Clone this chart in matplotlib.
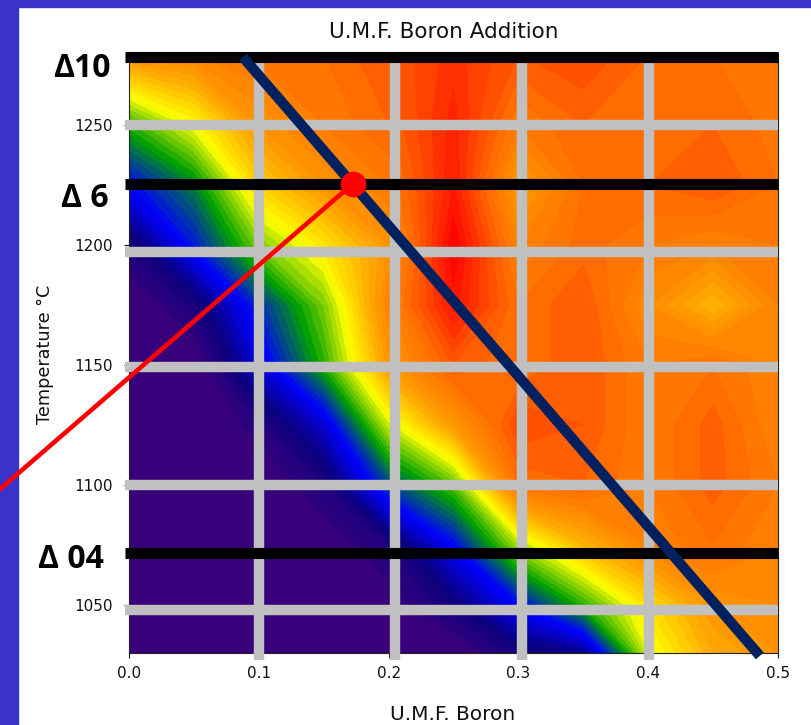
import numpy as np
import matplotlib
matplotlib.use("Agg")
import matplotlib.pyplot as plt
from matplotlib.colors import LinearSegmentedColormap
from matplotlib.patches import Rectangle

# measured grid: U.M.F. boron fraction vs temperature
boron = [0.0, 0.05, 0.1, 0.15, 0.2, 0.25, 0.3, 0.35, 0.4, 0.45, 0.5]
temps = [1030, 1050, 1075, 1100, 1125, 1150, 1175, 1200, 1225, 1250, 1280]

# relative response (0 = low, 1 = high), one row per temperature
z_1030 = [0.02, 0.02, 0.02, 0.02, 0.02, 0.03, 0.14, 0.18, 0.58, 0.72, 0.76]
z_1050 = [0.02, 0.02, 0.02, 0.02, 0.05, 0.15, 0.30, 0.47, 0.64, 0.76, 0.78]
z_1075 = [0.02, 0.02, 0.02, 0.04, 0.12, 0.30, 0.55, 0.70, 0.80, 0.84, 0.80]
z_1100 = [0.02, 0.02, 0.03, 0.12, 0.36, 0.50, 0.84, 0.86, 0.82, 0.87, 0.82]
z_1125 = [0.02, 0.02, 0.10, 0.25, 0.57, 0.75, 0.90, 0.88, 0.82, 0.87, 0.80]
z_1150 = [0.02, 0.03, 0.26, 0.47, 0.75, 0.88, 0.84, 0.88, 0.82, 0.84, 0.80]
z_1175 = [0.03, 0.13, 0.34, 0.52, 0.80, 0.97, 0.84, 0.88, 0.78, 0.70, 0.80]
z_1200 = [0.13, 0.32, 0.52, 0.63, 0.76, 1.00, 0.80, 0.85, 0.82, 0.80, 0.82]
z_1225 = [0.30, 0.42, 0.66, 0.76, 0.82, 0.96, 0.74, 0.84, 0.86, 0.88, 0.84]
z_1250 = [0.47, 0.60, 0.76, 0.82, 0.86, 0.95, 0.82, 0.86, 0.84, 0.86, 0.83]
z_1280 = [0.78, 0.80, 0.83, 0.84, 0.88, 0.93, 0.88, 0.90, 0.86, 0.84, 0.83]

# overlay annotations
grid_x = [0.1, 0.205, 0.303, 0.401]
grid_y = [1250, 1197, 1149, 1100, 1048]
delta_temps = [1278.5, 1225.6, 1071.5]
delta_labels = ["Δ10", "Δ 6", "Δ 04"]
trend_x = [0.0878, 0.486]
trend_y = [1278.3, 1028.8]
point_x = 0.1726
point_y = 1225.6
pointer_x = [-0.1, point_x]
pointer_y = [1098, point_y]

W, H = 811, 725


def fx(x):
    return x / W


def fy(y):
    return 1 - y / H


fig = plt.figure(figsize=(W / 100, H / 100), dpi=100)

# slide border (left and top)
border = "#3a33c9"
fig.patches.append(Rectangle((0, 0), fx(17.5), 1, transform=fig.transFigure,
                             color=border, zorder=-1))
fig.patches.append(Rectangle((0, fy(7)), 1, 7 / H, transform=fig.transFigure,
                             color=border, zorder=-1))

ax = fig.add_axes([fx(129), fy(653), 649 / W, 600 / H])

cmap = LinearSegmentedColormap.from_list("umf", [
    (0.00, "#38007a"), (0.06, "#38007a"), (0.17, "#0a0080"),
    (0.30, "#0000ff"), (0.45, "#00a000"), (0.60, "#ffff00"),
    (0.72, "#ffa800"), (0.85, "#ff6e00"), (1.00, "#ff0000")])

z = np.array([z_1030, z_1050, z_1075, z_1100, z_1125, z_1150,
              z_1175, z_1200, z_1225, z_1250, z_1280])
ax.contourf(boron, temps, z, levels=np.linspace(0, 1, 51), cmap=cmap,
            vmin=0, vmax=1, zorder=1)

ax.set_xlim(0, 0.5)
ax.set_ylim(1030, 1280)
ax.set_xticks([0.0, 0.1, 0.2, 0.3, 0.4, 0.5])
ax.set_xticklabels(["0.0", "0.1", "0.2", "0.3", "0.4", "0.5"])
ax.set_yticks([1050, 1100, 1150, 1200, 1250])
ax.tick_params(axis="both", direction="out", length=3.6, width=0.8,
               labelsize=11, colors="#111111")
ax.tick_params(axis="y", pad=8)
ax.tick_params(axis="x", pad=6)
for sp in ax.spines.values():
    sp.set_linewidth(0.8)
    sp.set_color("#222222")

# thick gray grid
for gx in grid_x:
    ax.plot([gx, gx], [1027, 1278], color="#c0c0c0", lw=7.5,
            solid_capstyle="butt", clip_on=False, zorder=3)
for gy in grid_y:
    ax.plot([-0.003, 0.5], [gy, gy], color="#c0c0c0", lw=7.5,
            solid_capstyle="butt", clip_on=False, zorder=3)

# delta reference lines
for ty in delta_temps:
    ax.plot([-0.003, 0.5], [ty, ty], color="black", lw=8,
            solid_capstyle="butt", clip_on=False, zorder=4)

ax.plot(trend_x, trend_y, color="#002060", lw=7.5,
        solid_capstyle="butt", clip_on=False, zorder=5)
ax.plot(pointer_x, pointer_y, color="#ff0000", lw=3.3,
        clip_on=False, zorder=6)
ax.plot(point_x, point_y, "o", ms=18.5, color="#ff0000", mec="none",
        clip_on=False, zorder=7)

# labels
fig.text(fx(444), fy(38), "U.M.F. Boron Addition", ha="center",
         va="baseline", fontsize=15.5, color="#111111")
fig.text(fx(453), fy(720), "U.M.F. Boron", ha="center", va="baseline",
         fontsize=14.5, color="#111111")
fig.text(fx(45), fy(354), "Temperature °C", rotation=90, ha="center",
         va="center", fontsize=12.7, color="#111111")

label_pos = [(82, 77), (85, 207), (70.5, 568)]
for lab, (cx, base) in zip(delta_labels, label_pos):
    fig.text(fx(cx), fy(base), lab, ha="center", va="baseline",
             fontsize=23, fontweight="bold", family="Open Sans",
             color="black")

fig.savefig("out.png", dpi=100)
